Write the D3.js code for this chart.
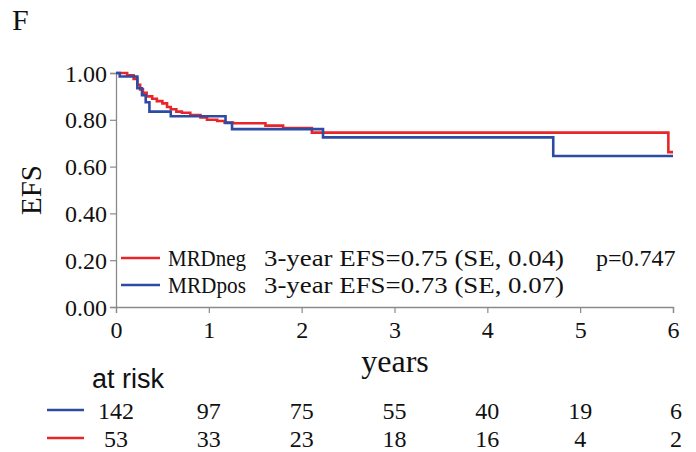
<!DOCTYPE html>
<html>
<head>
<meta charset="utf-8">
<script src="https://cdn.jsdelivr.net/npm/d3@7"></script>
<style>
  body { margin: 0; background: #fff; }
  svg text { font-family: "Liberation Serif", "DejaVu Serif", serif; fill: #111; }
</style>
</head>
<body>
<svg width="696" height="452"></svg>
<script>
// Kaplan-Meier steps: [years, EFS]
const mrdNeg = [
  [0, 1.00], [0.12, 0.99], [0.19, 0.975], [0.23, 0.95], [0.26, 0.93], [0.29, 0.915],
  [0.33, 0.90], [0.39, 0.89], [0.44, 0.88], [0.50, 0.87], [0.55, 0.855], [0.59, 0.845],
  [0.65, 0.835], [0.71, 0.83], [0.80, 0.82], [0.91, 0.81], [0.98, 0.80], [1.09, 0.795],
  [1.17, 0.788], [1.26, 0.785], [1.61, 0.775], [1.80, 0.765], [2.11, 0.745],
  [5.95, 0.662], [6.0, 0.662]
]
const mrdPos = [
  [0, 1.00], [0.04, 0.985], [0.23, 0.935], [0.28, 0.905], [0.32, 0.875], [0.36, 0.835],
  [0.59, 0.815], [1.18, 0.787], [1.25, 0.76], [2.23, 0.725], [4.71, 0.645], [6.0, 0.645]
]
const yearTicks = [0, 1, 2, 3, 4, 5, 6]
const efsTicks = [0, 0.2, 0.4, 0.6, 0.8, 1.0]
const atRiskPos = [142, 97, 75, 55, 40, 19, 6]
const atRiskNeg = [53, 33, 23, 18, 16, 4, 2]
const legendRows = [
  {name: 'MRDneg', stat: '3-year EFS=0.75 (SE, 0.04)', color: '#e8262a'},
  {name: 'MRDpos', stat: '3-year EFS=0.73 (SE, 0.07)', color: '#2d4ba3'}
]
const pValue = 'p=0.747'

const svg = d3.select('svg')
const x = d3.scaleLinear().domain([0, 6]).range([116, 673])
const y = d3.scaleLinear().domain([0, 1]).range([307, 73])

svg.append('text').attr('x', 12).attr('y', 30).style('font-size', '30px').text('F')

// axes
const xAxis = svg.append('g').attr('transform', `translate(0,${y(0)})`)
  .call(d3.axisBottom(x).tickValues(yearTicks).tickSize(6).tickPadding(8).tickFormat(d3.format('d')))
const yAxis = svg.append('g').attr('transform', `translate(${x(0)},0)`)
  .call(d3.axisLeft(y).tickValues(efsTicks).tickSize(6).tickPadding(3).tickFormat(d3.format('.2f')))
;[xAxis, yAxis].forEach(g => {
  g.select('.domain').attr('stroke', '#8a8a8a').attr('stroke-width', 1.3)
  g.selectAll('.tick line').attr('stroke', '#8a8a8a').attr('stroke-width', 1.2)
  g.selectAll('.tick text').style('font-size', '24px').style('font-family', '"Liberation Serif", serif').attr('fill', '#111')
})
xAxis.selectAll('.tick text').attr('dy', '0.72em')
yAxis.selectAll('.tick text').attr('dy', '0.34em')

svg.append('text').attr('transform', `translate(41,${y(0.5)}) rotate(-90)`)
  .attr('text-anchor', 'middle').style('font-size', '29px').text('EFS')
svg.append('text').attr('x', 395).attr('y', 372).attr('text-anchor', 'middle')
  .style('font-size', '32px').text('years')

// curves
const line = d3.line().x(d => x(d[0])).y(d => y(d[1])).curve(d3.curveStepAfter)
svg.append('path').datum(mrdNeg).attr('d', line)
  .attr('fill', 'none').attr('stroke', legendRows[0].color).attr('stroke-width', 2.6)
svg.append('path').datum(mrdPos).attr('d', line)
  .attr('fill', 'none').attr('stroke', legendRows[1].color).attr('stroke-width', 2.6)

// legend
legendRows.forEach((r, i) => {
  const ly = 258 + i * 27
  svg.append('line').attr('x1', 121).attr('x2', 160).attr('y1', ly).attr('y2', ly)
    .attr('stroke', r.color).attr('stroke-width', 2.6)
  svg.append('text').attr('x', 168).attr('y', ly + 8).style('font-size', '24px')
    .attr('textLength', 78).attr('lengthAdjust', 'spacingAndGlyphs').text(r.name)
  svg.append('text').attr('x', 264).attr('y', ly + 8).style('font-size', '24px')
    .attr('textLength', 300).attr('lengthAdjust', 'spacingAndGlyphs').text(r.stat)
})
svg.append('text').attr('x', 596).attr('y', 266).style('font-size', '24px').text(pValue)

// number at risk
svg.append('text').attr('x', 92).attr('y', 388).style('font-size', '27px')
  .style('font-family', '"Liberation Sans", Arial, sans-serif').text('at risk')
const riskRows = [
  {vals: atRiskPos, color: legendRows[1].color},
  {vals: atRiskNeg, color: legendRows[0].color}
]
riskRows.forEach((r, i) => {
  const ry = 410 + i * 28
  svg.append('line').attr('x1', 47).attr('x2', 84).attr('y1', ry).attr('y2', ry)
    .attr('stroke', r.color).attr('stroke-width', 2.6)
  svg.selectAll(null).data(r.vals).enter().append('text')
    .attr('x', (d, j) => x(yearTicks[j]) + (j === yearTicks.length - 1 ? 3 : 0))
    .attr('y', ry + 9).attr('text-anchor', 'middle')
    .style('font-size', '24px').text(d => d)
})
</script>
</body>
</html>
